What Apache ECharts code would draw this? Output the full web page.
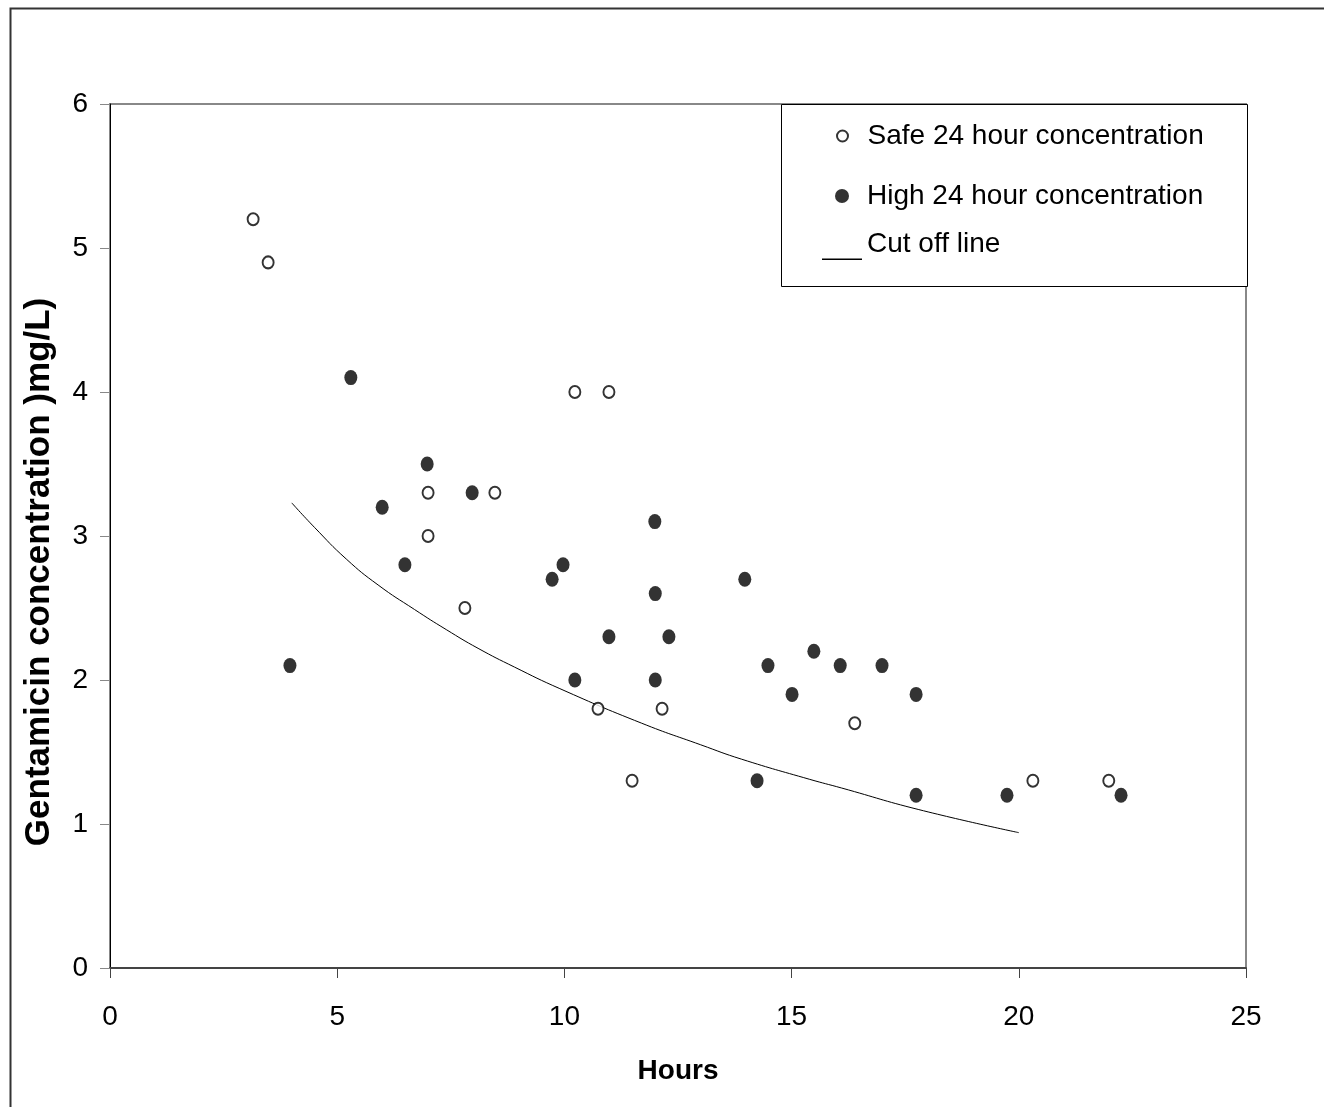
<!DOCTYPE html>
<html>
<head>
<meta charset="utf-8">
<script src="https://cdn.jsdelivr.net/npm/echarts@6/dist/echarts.min.js"></script>
<style>html,body{margin:0;padding:0;background:#fff;}#c{width:1324px;height:1107px;}</style>
</head>
<body>
<div id="c"></div>
<script>
// Safe 24 hour concentration (open circles): [hours, mg/L]
var safeData = [
  [3.15, 5.2], [3.48, 4.9], [7.0, 3.3], [7.0, 3.0], [7.81, 2.5], [8.47, 3.3],
  [10.23, 4.0], [10.98, 4.0], [10.74, 1.8], [12.15, 1.8], [11.49, 1.3],
  [16.39, 1.7], [20.31, 1.3], [21.98, 1.3]
];
// High 24 hour concentration (filled circles)
var highData = [
  [5.3, 4.1], [3.96, 2.1], [5.99, 3.2], [6.49, 2.8], [6.98, 3.5], [7.97, 3.3],
  [9.73, 2.7], [9.97, 2.8], [10.23, 2.0], [10.98, 2.3], [11.99, 3.1], [12.0, 2.6],
  [12.0, 2.0], [12.3, 2.3], [13.97, 2.7], [14.24, 1.3], [14.48, 2.1], [15.01, 1.9],
  [15.49, 2.2], [16.07, 2.1], [16.99, 2.1], [17.74, 1.9], [17.74, 1.2], [19.74, 1.2],
  [22.25, 1.2]
];
// Cut off line
var cutoffData = [
  [4.0, 3.23], [4.5, 3.06], [5.2, 2.84], [5.9, 2.66], [6.7, 2.49], [7.4, 2.35],
  [8.1, 2.22], [8.9, 2.09], [9.9, 1.94], [11.7, 1.70], [13.0, 1.55], [13.9, 1.45],
  [15.4, 1.31], [16.1, 1.25], [17.8, 1.10], [20.0, 0.94]
];
var seriesNames = ['Safe 24 hour concentration', 'High 24 hour concentration', 'Cut off line'];
var xTicks = { min: 0, max: 25, interval: 5 };
var yTicks = { min: 0, max: 6, interval: 1 };
var xTitle = 'Hours';
var yTitle = 'Gentamicin concentration )mg/L)';

var FONT = '"Liberation Sans", Arial, sans-serif';
var chart = echarts.init(document.getElementById('c'), null, { renderer: 'canvas' });

var legendText = { fontFamily: FONT, fontSize: 28, color: '#000', lineHeight: 32 };
var option = {
  animation: false,
  backgroundColor: '#fff',
  graphic: [
    { type: 'rect', left: 8, top: 6, shape: { width: 1400, height: 1200 }, style: { fill: 'none', stroke: '#333', lineWidth: 2 }, z: -1 },
    { type: 'rect', left: 781, top: 104, shape: { width: 466, height: 182 }, style: { fill: '#fff', stroke: '#000', lineWidth: 1 }, z: 5 }
  ],
  grid: {
    left: 110, top: 104, width: 1136, height: 864,
    show: true, borderColor: '#888', borderWidth: 2, backgroundColor: '#fff'
  },
  legend: [
    { data: [{ name: seriesNames[0], icon: 'circle' }], left: 836, top: 120, padding: 0,
      itemWidth: 40, itemHeight: 11, itemGap: 0, textStyle: legendText, selectedMode: false, z: 10 },
    { data: [{ name: seriesNames[1], icon: 'circle' }], left: 835, top: 180, padding: 0,
      itemWidth: 40, itemHeight: 14, itemGap: 0, textStyle: legendText, selectedMode: false, z: 10 },
    { data: [{ name: seriesNames[2], icon: 'path://M0,0 M0,30.5 L40,30.5 L40,32 L0,32 Z' }], left: 822, top: 228, padding: 0,
      itemWidth: 40, itemHeight: 32, itemGap: 0, textStyle: legendText, selectedMode: false, z: 10,
      itemStyle: { color: '#000', borderWidth: 0 } }
  ],
  xAxis: {
    type: 'value', min: xTicks.min, max: xTicks.max, interval: xTicks.interval,
    name: xTitle, nameLocation: 'middle', nameGap: 89,
    nameTextStyle: { fontFamily: FONT, fontSize: 28, fontWeight: 'bold', color: '#000' },
    axisLine: { show: true, onZero: false, lineStyle: { color: '#444', width: 2 } },
    axisTick: { show: true, inside: false, length: 10, lineStyle: { color: '#444', width: 1 } },
    axisLabel: { fontFamily: FONT, fontSize: 28, color: '#000', margin: 35 },
    splitLine: { show: false }
  },
  yAxis: {
    type: 'value', min: yTicks.min, max: yTicks.max, interval: yTicks.interval,
    name: yTitle, nameLocation: 'middle', nameGap: 53, nameRotate: 90,
    nameTextStyle: { fontFamily: FONT, fontSize: 35, fontWeight: 'bold', color: '#000', padding: [0, 72, 0, 0] },
    axisLine: { show: true, onZero: false, lineStyle: { color: '#000', width: 1 } },
    axisTick: { show: true, inside: false, length: 10, lineStyle: { color: '#888', width: 1 } },
    axisLabel: { fontFamily: FONT, fontSize: 28, color: '#000', margin: 22 },
    splitLine: { show: false }
  },
  series: [
    { name: seriesNames[0], type: 'scatter', data: safeData, symbol: 'circle', symbolSize: [11, 12],
      itemStyle: { color: '#fff', borderColor: '#000', borderWidth: 2 }, z: 3 },
    { name: seriesNames[1], type: 'scatter', data: highData, symbol: 'circle', symbolSize: [13, 15],
      itemStyle: { color: '#000', borderColor: '#000', borderWidth: 0 }, z: 3 },
    { name: seriesNames[2], type: 'line', data: cutoffData, smooth: true, showSymbol: false, symbol: 'none',
      lineStyle: { color: '#000', width: 1 }, itemStyle: { color: '#000' }, z: 2 }
  ]
};
chart.setOption(option);
</script>
</body>
</html>
